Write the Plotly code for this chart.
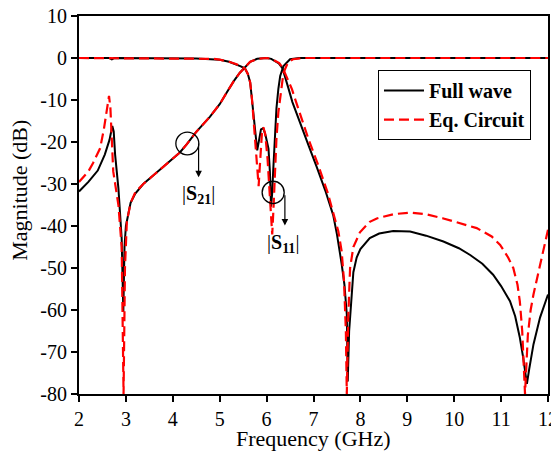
import plotly.graph_objects as go

# ---------------- data ----------------
fw_s21_f = [2.0, 2.2, 2.4, 2.55, 2.65, 2.71, 2.74, 2.77, 2.84, 2.91, 2.945, 2.97, 3.0, 3.05, 3.1, 3.2,
            3.37, 3.6, 3.87, 4.15, 4.3, 4.5, 4.79, 5.0, 5.15, 5.3, 5.43, 5.54, 5.65, 5.8, 6.0, 6.1,
            6.18, 6.26, 6.34, 6.4, 6.46, 6.55, 6.71, 6.9, 7.07, 7.25, 7.42, 7.5, 7.6, 7.66, 7.71,
            7.73, 7.76, 7.8, 7.85, 7.92, 8.0, 8.2, 8.4, 8.7, 9.06, 9.4, 9.77, 10.1, 10.34, 10.6,
            10.83, 11.0, 11.19, 11.3, 11.4, 11.47, 11.55, 11.6, 11.69, 11.83, 11.92, 12.0]
fw_s21_db = [-31.8, -29.5, -26.8, -23.0, -19.5, -16.2, -17.5, -23.0, -31.0, -43.0, -60.5, -45.0, -40.0,
             -37.0, -34.5, -32.3, -30.0, -27.8, -25.3, -22.5, -20.5, -17.6, -14.0, -11.0, -8.2, -5.5,
             -3.5, -2.2, -0.9, -0.2, 0.0, -0.2, -0.7, -1.3, -2.5, -4.5, -7.0, -10.5, -15.5, -21.0,
             -26.0, -31.5, -37.4, -42.0, -49.0, -54.0, -61.0, -77.0, -65.0, -58.0, -51.0, -47.5,
             -45.5, -42.9, -41.8, -41.2, -41.3, -42.3, -43.7, -45.3, -46.9, -49.0, -51.6, -54.3,
             -57.9, -61.5, -66.6, -71.3, -77.6, -74.0, -68.2, -61.8, -59.0, -56.3]

fw_s11_f = [2.0, 2.65, 2.7, 2.75, 4.5, 4.86, 5.0, 5.2, 5.36, 5.45, 5.54, 5.6, 5.65, 5.68, 5.72, 5.76,
            5.80, 5.84, 5.88, 5.93, 5.98, 6.04, 6.07, 6.095, 6.12, 6.14, 6.18, 6.21, 6.25, 6.29,
            6.36, 6.45, 6.5, 6.7, 12.0]
fw_s11_db = [0.0, 0.0, -0.3, 0.0, -0.1, -0.2, -0.4, -0.9, -1.5, -2.0, -2.5, -3.8, -5.8, -9.0, -13.7,
             -18.0, -22.0, -19.5, -17.0, -16.7, -18.5, -21.6, -27.0, -35.4, -32.0, -27.0, -19.2,
             -12.0, -7.4, -4.3, -1.9, -0.7, -0.3, 0.0, 0.0]

ec_s21_f = [2.0, 2.2, 2.3, 2.45, 2.53, 2.6, 2.64, 2.67, 2.7, 2.73, 2.84, 2.91, 2.95, 2.98, 3.02, 3.1,
            3.2, 3.37, 3.6, 3.87, 4.15, 4.3, 4.5, 4.79, 5.0, 5.15, 5.3, 5.43, 5.54, 5.65, 5.8, 6.0,
            6.1, 6.18, 6.27, 6.34, 6.42, 6.54, 6.6, 6.75, 6.89, 7.1, 7.3, 7.53, 7.6, 7.65, 7.69,
            7.71, 7.74, 7.78, 7.85, 7.99, 8.2, 8.35, 8.7, 9.06, 9.4, 9.77, 10.1, 10.48, 10.8,
            10.98, 11.15, 11.26, 11.35, 11.4, 11.45, 11.51, 11.57, 11.63, 11.69, 11.83, 11.92, 12.0]
ec_s21_db = [-29.5, -27.0, -25.0, -21.5, -17.0, -12.0, -9.0, -12.0, -19.0, -27.0, -35.0, -45.0, -80.0,
             -50.0, -39.0, -34.5, -32.0, -30.0, -27.8, -25.3, -22.5, -20.5, -17.6, -14.0, -11.0,
             -8.2, -5.5, -3.5, -2.2, -0.9, -0.2, 0.0, -0.2, -0.6, -1.2, -2.3, -4.2, -7.4, -9.5,
             -14.5, -19.2, -25.5, -32.0, -41.3, -46.0, -53.0, -65.0, -80.0, -62.0, -50.0, -45.0,
             -41.5, -39.0, -38.2, -37.2, -36.8, -37.2, -38.2, -39.2, -40.5, -42.5, -44.5, -47.5,
             -50.0, -54.0, -58.0, -65.0, -80.0, -66.0, -60.0, -56.3, -49.2, -45.0, -40.9]

ec_s11_f = [2.0, 4.5, 4.86, 5.0, 5.2, 5.36, 5.45, 5.54, 5.6, 5.65, 5.69, 5.72, 5.76, 5.8, 5.83, 5.86,
            5.9, 5.93, 5.97, 6.02, 6.07, 6.12, 6.15, 6.18, 6.21, 6.25, 6.29, 6.36, 6.45, 6.56,
            6.8, 12.0]
ec_s11_db = [0.0, -0.1, -0.2, -0.4, -0.9, -1.5, -2.0, -2.5, -3.8, -5.8, -10.0, -14.0, -20.0, -26.0,
             -30.5, -25.0, -18.0, -16.5, -18.0, -24.0, -33.0, -42.0, -35.0, -26.0, -19.2, -13.0,
             -9.0, -3.5, -1.2, -0.3, 0.0, 0.0]

x_ticks = [2, 3, 4, 5, 6, 7, 8, 9, 10, 11, 12]
y_ticks = [10, 0, -10, -20, -30, -40, -50, -60, -70, -80]
y_tick_text = ["10", "0", "-10", "-20", "-30", "-40", "-50", "-60", "-70", "-80"]

legend_names = ["Full wave", "Eq. Circuit"]
x_title = "Frequency (GHz)"
y_title = "Magnitude (dB)"

# annotation markers (data units)
s21_circle = dict(cx=4.31, cy=-20.35, rx=0.245, ry=2.7)
s21_arrow = dict(x=4.55, y0=-20.0, y1=-28.4)
s21_label = dict(x=4.54, y=-32.6, text="|<b>S</b><sub><b>21</b></sub>|")
s11_circle = dict(cx=6.14, cy=-32.0, rx=0.235, ry=2.65)
s11_arrow = dict(x=6.39, y0=-32.3, y1=-39.9)
s11_label = dict(x=6.36, y=-44.1, text="|<b>S</b><sub><b>11</b></sub>|")

SERIF = "Liberation Serif, Times New Roman, serif"

fig = go.Figure()
black = dict(color="black", width=2)
red = dict(color="#ff0000", width=2.2, dash="10px,5px")

fig.add_trace(go.Scatter(x=fw_s21_f, y=fw_s21_db, mode="lines", line=black,
                         name="<b>" + legend_names[0] + "</b>", legendgroup="fw"))
fig.add_trace(go.Scatter(x=fw_s11_f, y=fw_s11_db, mode="lines", line=black,
                         name="<b>" + legend_names[0] + "</b>", legendgroup="fw", showlegend=False))
fig.add_trace(go.Scatter(x=ec_s21_f, y=ec_s21_db, mode="lines", line=red,
                         name="<b>" + legend_names[1] + "</b>", legendgroup="ec"))
fig.add_trace(go.Scatter(x=ec_s11_f, y=ec_s11_db, mode="lines", line=red,
                         name="<b>" + legend_names[1] + "</b>", legendgroup="ec", showlegend=False))

for c in (s21_circle, s11_circle):
    fig.add_shape(type="circle", xref="x", yref="y",
                  x0=c["cx"] - c["rx"], x1=c["cx"] + c["rx"],
                  y0=c["cy"] - c["ry"], y1=c["cy"] + c["ry"],
                  line=dict(color="black", width=1.3))

for a in (s21_arrow, s11_arrow):
    fig.add_annotation(x=a["x"], y=a["y1"], ax=a["x"], ay=a["y0"], xref="x", yref="y",
                       axref="x", ayref="y", text="", showarrow=True, arrowhead=2,
                       arrowsize=1.1, arrowwidth=1.2, arrowcolor="black")

for t in (s21_label, s11_label):
    fig.add_annotation(x=t["x"], y=t["y"], xref="x", yref="y", text=t["text"],
                       showarrow=False, font=dict(family=SERIF, size=20, color="black"))

# axis titles as paper annotations
fig.add_annotation(x=0.499, y=-0.118, xref="paper", yref="paper", text=x_title,
                   showarrow=False, xanchor="center", yanchor="middle",
                   font=dict(family=SERIF, size=22, color="black"))
fig.add_annotation(x=-0.126, y=0.54, xref="paper", yref="paper", text=y_title,
                   showarrow=False, xanchor="center", yanchor="middle", textangle=-90,
                   font=dict(family=SERIF, size=22, color="black"))

axis_common = dict(showline=True, linecolor="black", linewidth=2, mirror=True,
                   ticks="outside", ticklen=6, tickwidth=1.5, tickcolor="black",
                   showgrid=False, zeroline=False, automargin=False,
                   ticklabeloverflow="allow",
                   tickfont=dict(family=SERIF, size=20, color="black"))

fig.update_xaxes(range=[2, 12], tickvals=x_ticks, **axis_common)
fig.update_yaxes(range=[-80, 10], tickvals=y_ticks, ticktext=y_tick_text, **axis_common)

# the page body adds an 8px offset, so the figure is 8px smaller and shifted
fig.update_layout(
    width=551, height=444,
    margin=dict(l=71, r=11, t=8, b=58),
    paper_bgcolor="white", plot_bgcolor="white",
    showlegend=True,
    legend=dict(x=0.6375, y=0.857, xanchor="left", yanchor="top",
                bordercolor="black", borderwidth=1, bgcolor="white",
                font=dict(family=SERIF, size=20, color="black"),
                itemwidth=40, tracegroupgap=0),
    font=dict(family=SERIF, color="black"),
)

fig.write_html("out.html")
